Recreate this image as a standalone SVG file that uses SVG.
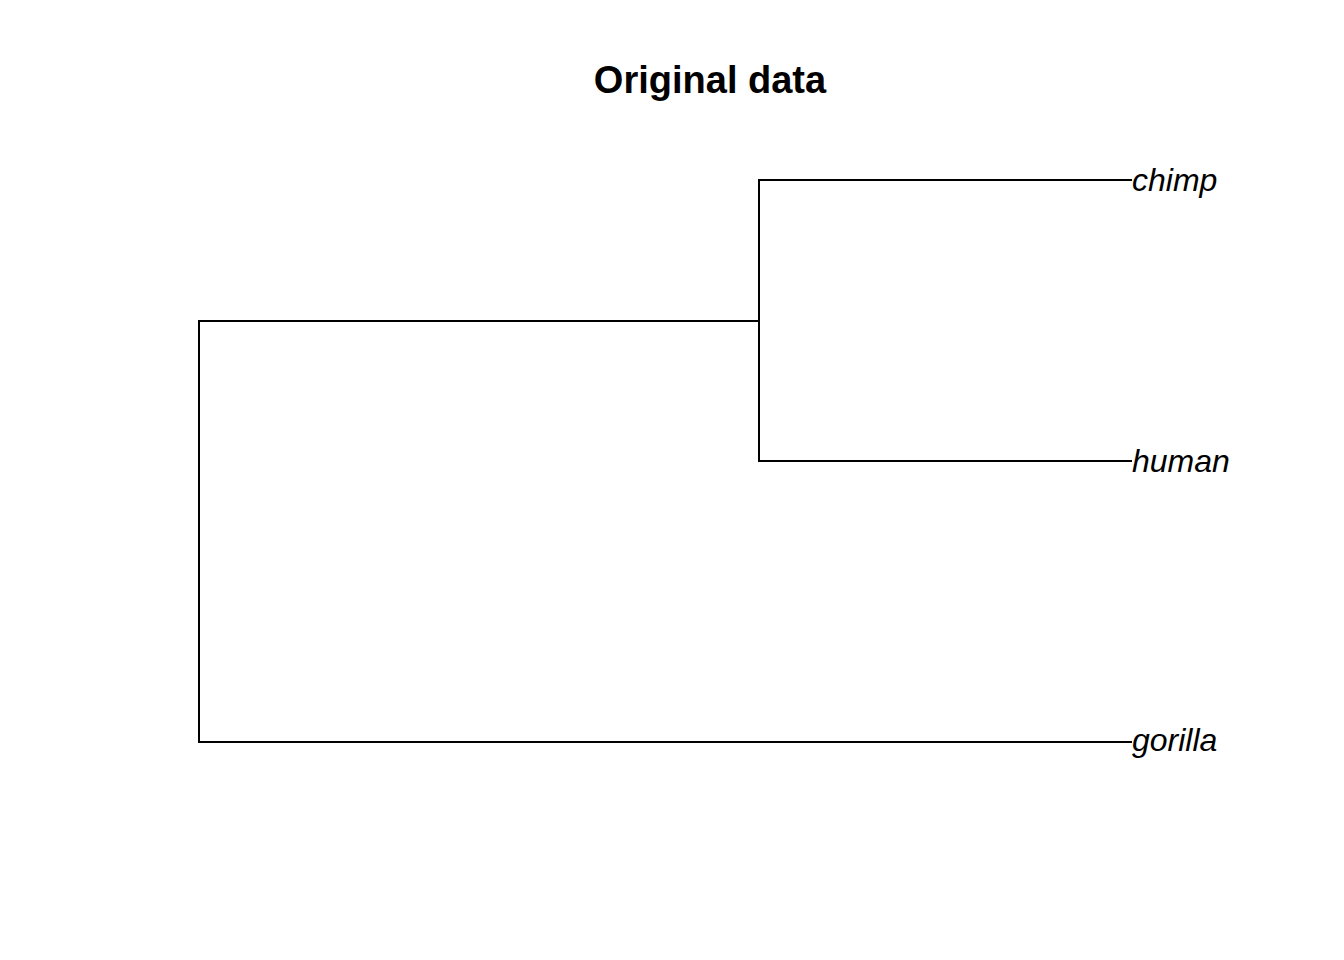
<svg xmlns="http://www.w3.org/2000/svg" width="1344" height="960" viewBox="0 0 1344 960">
<style>
.e{fill:none;stroke:#000;stroke-width:2;stroke-linecap:butt;stroke-linejoin:miter}
.lab{font-family:"Liberation Sans",Arial,sans-serif;font-style:italic;font-size:32px;fill:#000}
.title{font-family:"Liberation Sans",Arial,sans-serif;font-weight:bold;font-size:38px;fill:#000}
</style>
<rect width="1344" height="960" fill="#fff"/>
<text class="title" x="710" y="93" text-anchor="middle">Original data</text>
<g id="connectors">
<path class="e" d="M759,321 H199 V742 H1132"/>
<path class="e" d="M1132,180 H759 V461 H1132"/>
</g>
<g id="chimp"><text class="lab" x="1132" y="191">chimp</text></g>
<g id="human"><text class="lab" x="1132" y="472">human</text></g>
<g id="gorilla"><text class="lab" x="1132" y="751">gorilla</text></g>
</svg>
